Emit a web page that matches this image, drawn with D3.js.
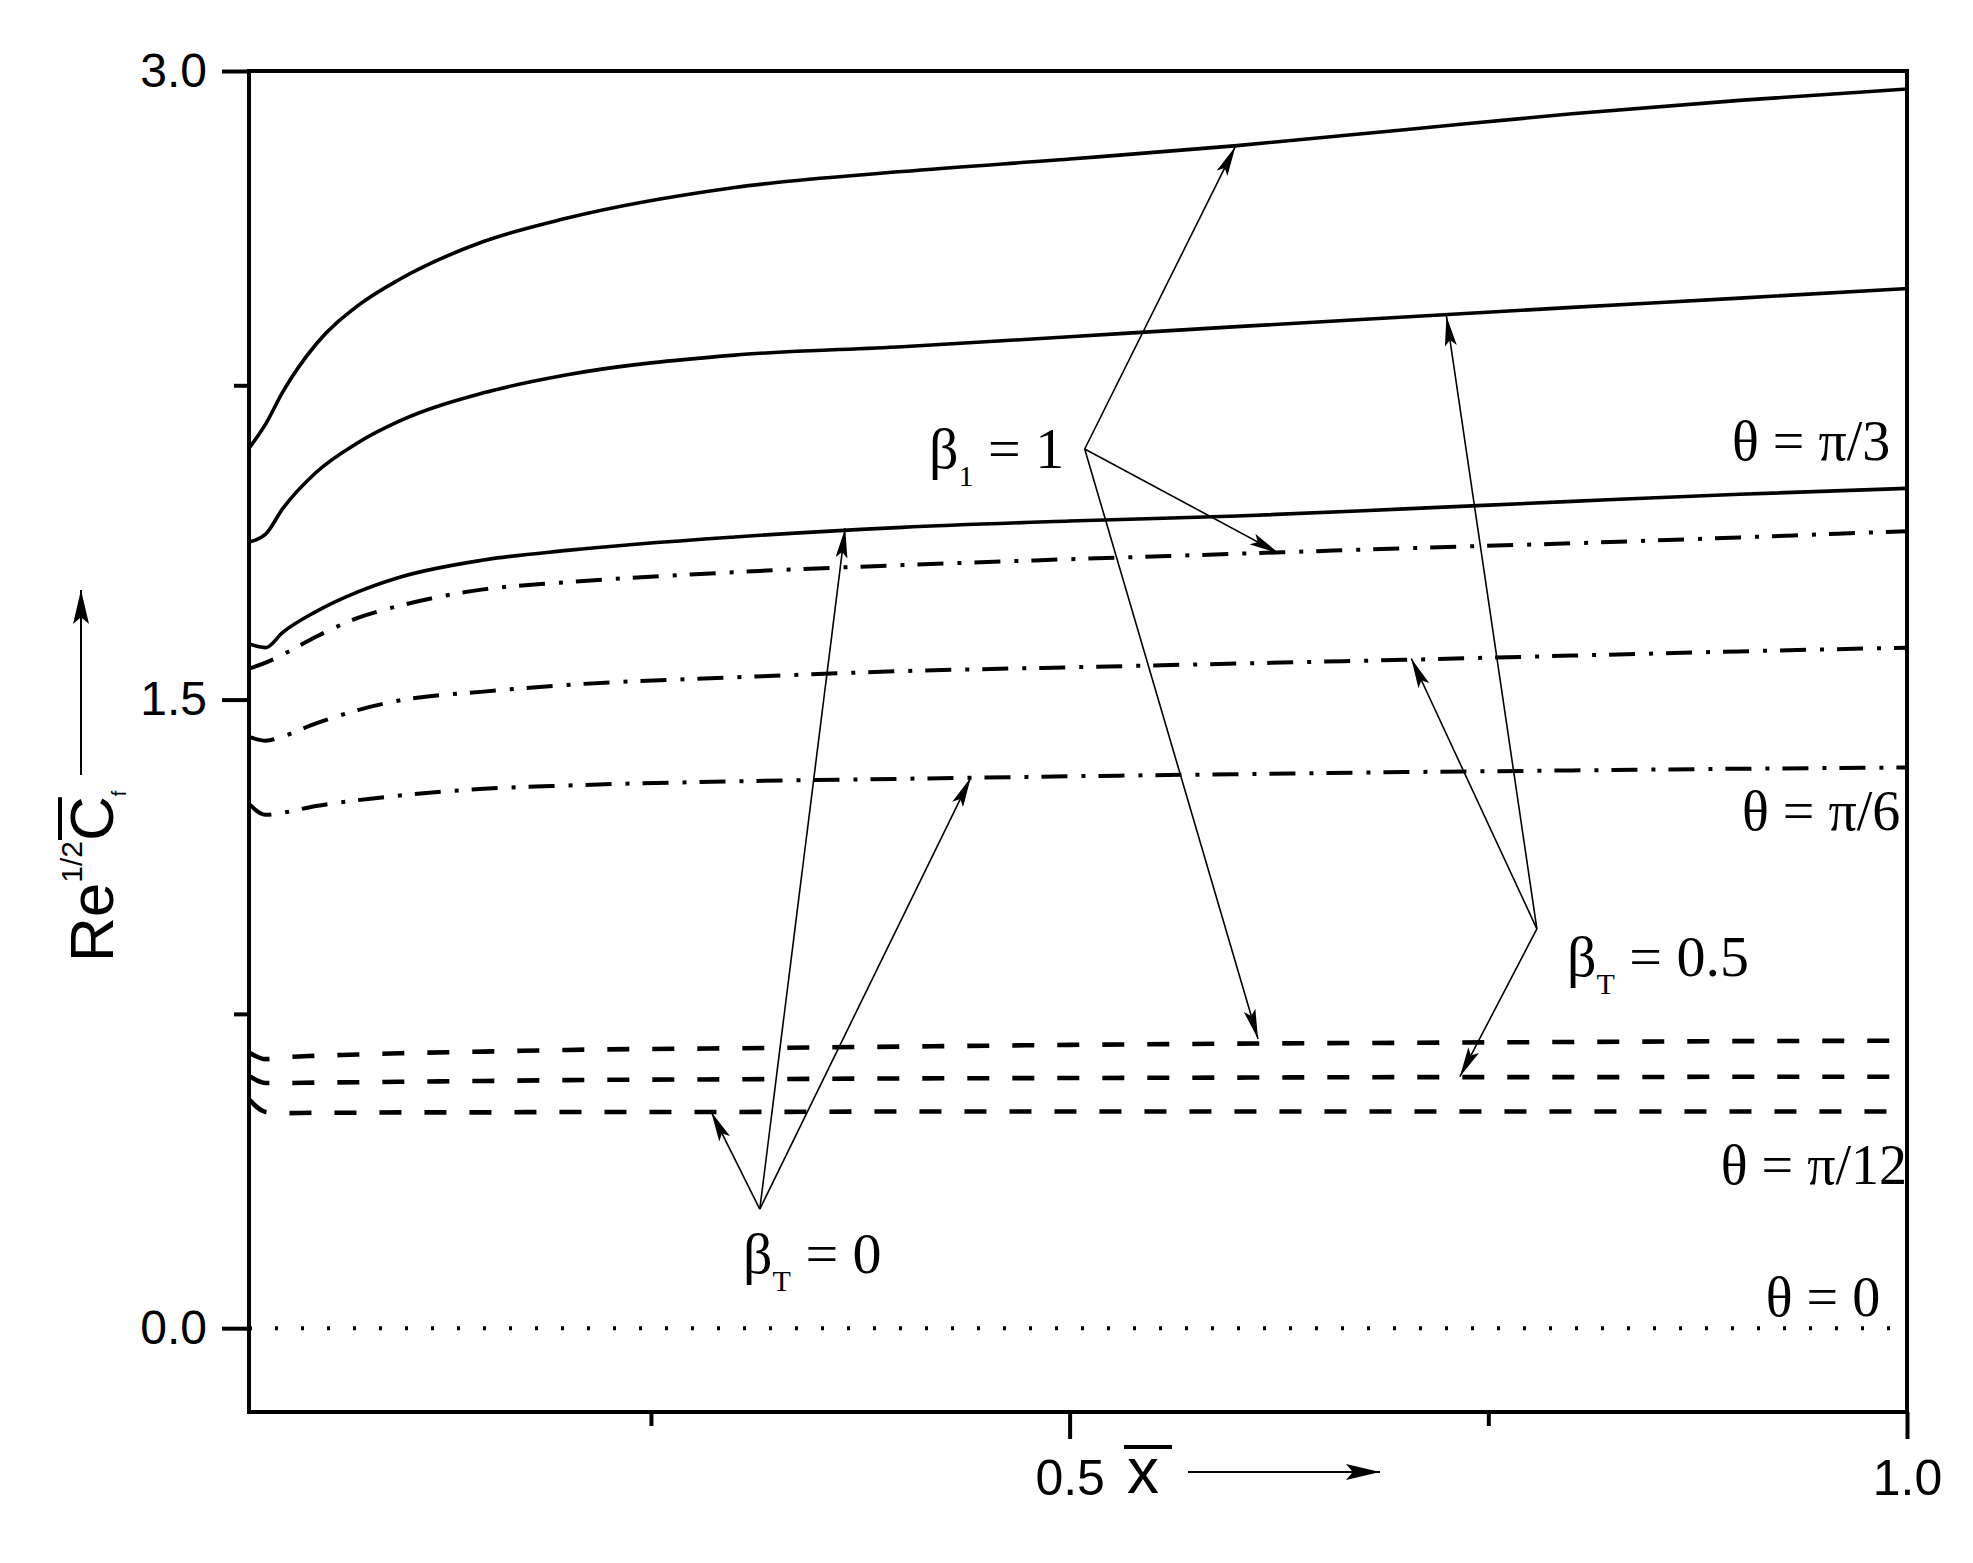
<!DOCTYPE html>
<html><head><meta charset="utf-8">
<script src="https://cdn.jsdelivr.net/npm/d3@7"></script>
<style>body{margin:0;background:#fff}</style>
</head><body>
<svg id="chart" width="1973" height="1563" xmlns="http://www.w3.org/2000/svg"></svg>
<script>
// ---------------- data ----------------
const xGrid = [0.01, 0.02, 0.03, 0.05, 0.075, 0.1, 0.15, 0.2, 0.3, 0.4, 0.5, 0.6, 0.7, 0.8, 0.9, 1.0];

// theta = pi/3 (solid)
const pi3_beta1   = [2.100, 2.158, 2.233, 2.348, 2.440, 2.503, 2.593, 2.649, 2.722, 2.760, 2.790, 2.822, 2.860, 2.898, 2.930, 2.957];
const pi3_beta05  = [1.876, 1.895, 1.955, 2.042, 2.113, 2.165, 2.232, 2.275, 2.322, 2.342, 2.366, 2.390, 2.413, 2.436, 2.458, 2.481];
const pi3_beta0   = [1.633, 1.624, 1.660, 1.710, 1.757, 1.792, 1.833, 1.856, 1.888, 1.911, 1.926, 1.938, 1.955, 1.973, 1.990, 2.004];
// theta = pi/6 (dash-dot)
const pi6_beta1   = [1.574, 1.588, 1.607, 1.650, 1.695, 1.724, 1.763, 1.780, 1.804, 1.821, 1.835, 1.848, 1.861, 1.873, 1.887, 1.902];
const pi6_beta05  = [1.411, 1.402, 1.412, 1.443, 1.475, 1.498, 1.519, 1.535, 1.553, 1.568, 1.577, 1.586, 1.595, 1.605, 1.615, 1.624];
const pi6_beta0   = [1.251, 1.225, 1.230, 1.246, 1.260, 1.271, 1.287, 1.295, 1.305, 1.311, 1.317, 1.322, 1.327, 1.331, 1.335, 1.338];
// theta = pi/12 (dashed)
const pi12_beta1  = [0.658, 0.642, 0.646, 0.650, 0.653, 0.656, 0.660, 0.664, 0.668, 0.672, 0.676, 0.679, 0.681, 0.683, 0.685, 0.686];
const pi12_beta05 = [0.602, 0.585, 0.585, 0.586, 0.587, 0.588, 0.590, 0.592, 0.594, 0.596, 0.597, 0.598, 0.599, 0.599, 0.600, 0.600];
const pi12_beta0  = [0.546, 0.516, 0.513, 0.514, 0.514, 0.515, 0.515, 0.516, 0.516, 0.517, 0.517, 0.517, 0.517, 0.517, 0.517, 0.517];
// theta = 0 (dotted)
const th0_all     = [0, 0, 0, 0, 0, 0, 0, 0, 0, 0, 0, 0, 0, 0, 0, 0];

const yMajorTicks = [0.0, 1.5, 3.0];
const yMinorTicks = [0.75, 2.25];
const xMajorTicks = [0.5, 1.0];
const xMinorTicks = [0.25, 0.75];

const thetaLabels = ["θ = π/3", "θ = π/6", "θ = π/12", "θ = 0"];
const thetaLabelAt = [[0.990, 2.072], [0.996, 1.188], [1.000, 0.344], [0.984, 0.029]];

const betaLabels = [
  {b: "β", s: "1", r: " = 1"},
  {b: "β", s: "T", r: " = 0.5"},
  {b: "β", s: "T", r: " = 0"}
];
const betaLabelAt = [[0.416, 2.053], [0.797, 0.841], [0.305, 0.131]];
const betaVertex  = [[0.509, 2.098], [0.779, 0.953], [0.315, 0.284]];
const betaTips = [
  [[0.599, 2.820], [0.625, 1.849], [0.6125, 0.690]],
  [[0.725, 2.415], [0.704, 1.598], [0.733, 0.600]],
  [[0.286, 0.516], [0.366, 1.909], [0.441, 1.314]]
];

// ---------------- setup ----------------
const W = 1973, H = 1563;
const M = {left: 249, top: 71, right: 66, bottom: 151};
const svg = d3.select("#chart");
svg.append("rect").attr("width", W).attr("height", H).attr("fill", "#fff");

const x = d3.scaleLinear().domain([0.01, 1.0]).range([M.left, W - M.right]);
const y = d3.scaleLinear().domain([-0.2, 3.0]).range([H - M.bottom, M.top]);

const defs = svg.append("defs");
function marker(id, w, h) {
  defs.append("marker").attr("id", id)
    .attr("viewBox", "0 0 10 10").attr("refX", 10).attr("refY", 5)
    .attr("preserveAspectRatio", "none")
    .attr("markerUnits", "userSpaceOnUse")
    .attr("markerWidth", w).attr("markerHeight", h)
    .attr("orient", "auto")
    .append("path").attr("d", "M0,0 L10,5 L0,10 L2,5 z").attr("fill", "#000");
}
marker("ah", 30, 12);
marker("ahBig", 34, 16);

const styles = {
  solid:   {w: 3.6, dash: null},
  dashdot: {w: 4.0, dash: "26 14 4 13"},
  dashed:  {w: 4.6, dash: "22 23"},
  dotted:  {w: 4,   dash: "3 23"}
};
const series = [
  {v: pi3_beta1, s: "solid"}, {v: pi3_beta05, s: "solid"}, {v: pi3_beta0, s: "solid"},
  {v: pi6_beta1, s: "dashdot"}, {v: pi6_beta05, s: "dashdot"}, {v: pi6_beta0, s: "dashdot"},
  {v: pi12_beta1, s: "dashed"}, {v: pi12_beta05, s: "dashed"}, {v: pi12_beta0, s: "dashed"},
  {v: th0_all, s: "dotted"}
];

const line = d3.line().x(d => x(d[0])).y(d => y(d[1])).curve(d3.curveMonotoneX);
const gCurves = svg.append("g");
series.forEach(se => {
  const pts = xGrid.map((xv, i) => [xv, se.v[i]]);
  const st = styles[se.s];
  gCurves.append("path").attr("d", line(pts))
    .attr("fill", "none").attr("stroke", "#000")
    .attr("stroke-width", st.w)
    .attr("stroke-dasharray", st.dash)
    .attr("stroke-linejoin", "round");
});

// ---------------- annotations ----------------
const gAnn = svg.append("g");
betaVertex.forEach((vt, i) => {
  betaTips[i].forEach(tp => {
    gAnn.append("line")
      .attr("x1", x(vt[0])).attr("y1", y(vt[1]))
      .attr("x2", x(tp[0])).attr("y2", y(tp[1]))
      .attr("stroke", "#000").attr("stroke-width", 1.6)
      .attr("marker-end", "url(#ah)");
  });
});

const serif = "'Liberation Serif', 'Times New Roman', serif";
thetaLabels.forEach((t, i) => {
  gAnn.append("text")
    .attr("x", x(thetaLabelAt[i][0])).attr("y", y(thetaLabelAt[i][1]))
    .attr("text-anchor", "end")
    .attr("font-family", serif).attr("font-size", 56)
    .attr("fill", "#000").text(t);
});
betaLabels.forEach((bl, i) => {
  const t = gAnn.append("text")
    .attr("x", x(betaLabelAt[i][0])).attr("y", y(betaLabelAt[i][1]))
    .attr("font-family", serif).attr("font-size", 58).attr("fill", "#000");
  t.append("tspan").text(bl.b);
  t.append("tspan").attr("font-size", 30).attr("dy", 18).text(bl.s);
  t.append("tspan").attr("dy", -18).text(bl.r);
});

// ---------------- axes ----------------
const sans = "'Liberation Sans', Arial, sans-serif";
function styleAxis(g) {
  g.select(".domain").remove();
  g.selectAll(".tick line").attr("stroke", "#000").attr("stroke-width", 4);
  g.selectAll(".tick text").attr("font-family", sans).attr("fill", "#000");
}
svg.append("g").attr("transform", `translate(${M.left},0)`)
  .call(d3.axisLeft(y).tickValues(yMajorTicks).tickSize(27).tickPadding(15).tickFormat(d3.format(".1f")))
  .call(styleAxis)
  .call(g => g.selectAll(".tick text").attr("font-size", 48));
svg.append("g").attr("transform", `translate(${M.left},0)`)
  .call(d3.axisLeft(y).tickValues(yMinorTicks).tickSize(15).tickFormat(""))
  .call(styleAxis);
svg.append("g").attr("transform", `translate(0,${H - M.bottom})`)
  .call(d3.axisBottom(x).tickValues(xMajorTicks).tickSize(27).tickPadding(20).tickFormat(d3.format(".1f")))
  .call(styleAxis)
  .call(g => g.selectAll(".tick text").attr("font-size", 50));
svg.append("g").attr("transform", `translate(0,${H - M.bottom})`)
  .call(d3.axisBottom(x).tickValues(xMinorTicks).tickSize(14).tickFormat(""))
  .call(styleAxis);

// frame
svg.append("rect")
  .attr("x", M.left).attr("y", M.top)
  .attr("width", W - M.left - M.right).attr("height", H - M.top - M.bottom)
  .attr("fill", "none").attr("stroke", "#000").attr("stroke-width", 4);

// x-axis title: x-bar with arrow
svg.append("text").attr("x", 1127).attr("y", 1493)
  .attr("font-family", sans).attr("font-size", 64).attr("fill", "#000").text("x");
svg.append("line").attr("x1", 1124).attr("x2", 1172).attr("y1", 1447).attr("y2", 1447)
  .attr("stroke", "#000").attr("stroke-width", 4);
svg.append("line").attr("x1", 1188).attr("x2", 1380).attr("y1", 1472).attr("y2", 1472)
  .attr("stroke", "#000").attr("stroke-width", 2).attr("marker-end", "url(#ahBig)");

// y-axis title
const gy = svg.append("g").attr("transform", "translate(113,962) rotate(-90)");
const yt = gy.append("text").attr("x", 0).attr("y", 0)
  .attr("font-family", sans).attr("font-size", 62).attr("fill", "#000");
yt.append("tspan").text("Re");
yt.append("tspan").attr("font-size", 30).attr("dy", -31).text("1/2");
yt.append("tspan").attr("dy", 31).text("C");
yt.append("tspan").attr("font-size", 20).attr("dy", 13).text("f");
const ce = yt.node().getExtentOfChar(5);
gy.append("line").attr("x1", ce.x + 1).attr("x2", ce.x + ce.width - 1)
  .attr("y1", -53).attr("y2", -53).attr("stroke", "#000").attr("stroke-width", 4);
svg.append("line").attr("x1", 81).attr("x2", 81).attr("y1", 775).attr("y2", 590)
  .attr("stroke", "#000").attr("stroke-width", 2).attr("marker-end", "url(#ahBig)");
</script>
</body></html>
